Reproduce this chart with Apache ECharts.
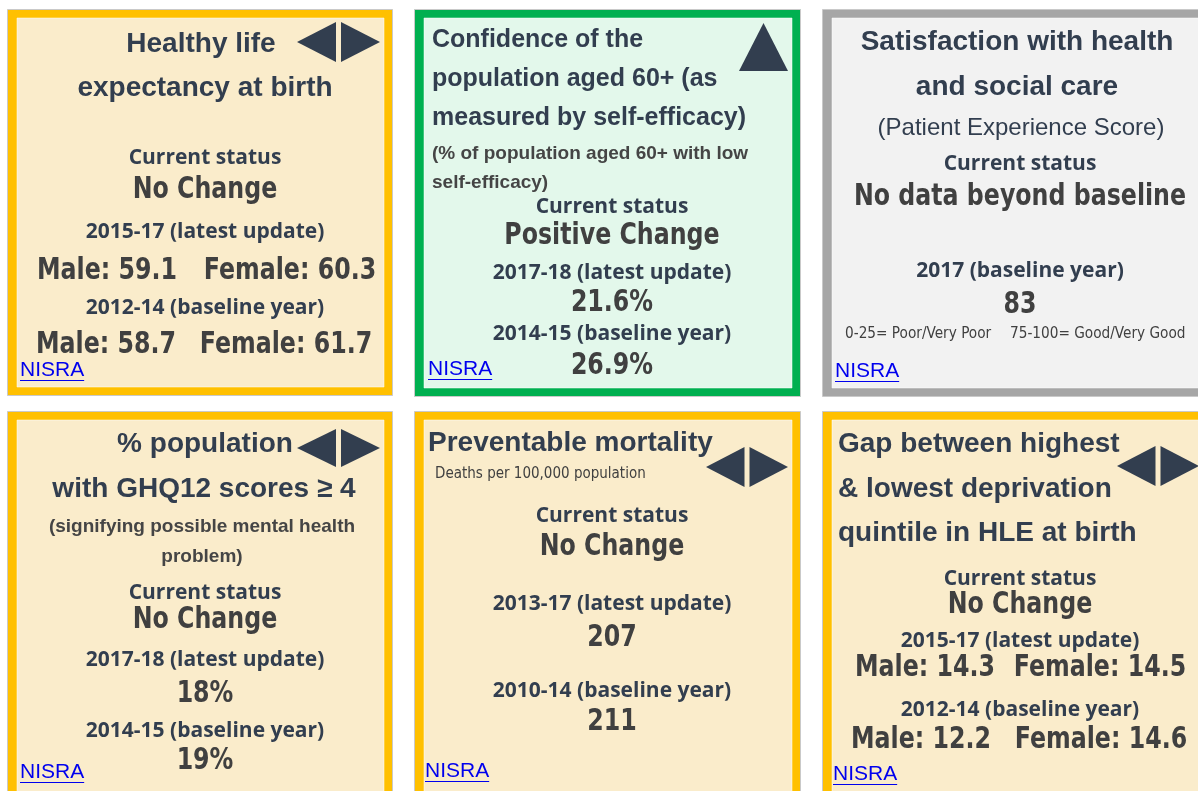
<!DOCTYPE html>
<html>
<head>
<meta charset="utf-8">
<script src="https://cdn.jsdelivr.net/npm/echarts@6/dist/echarts.min.js"></script>
<style>
  html, body { margin: 0; padding: 0; background: #fff; }
  #main { width: 1198px; height: 791px; }
</style>
</head>
<body>
<div id="main"></div>
<script>
// indicator data, one entry per card (reading order)
const titles = [
  ['Healthy life', 'expectancy at birth'],
  ['Confidence of the', 'population aged 60+ (as', 'measured by self-efficacy)'],
  ['Satisfaction with health', 'and social care'],
  ['% population', 'with GHQ12 scores \u2265 4'],
  ['Preventable mortality'],
  ['Gap between highest', '& lowest deprivation', 'quintile in HLE at birth']
];
const subtitles = [
  [],
  ['(% of population aged 60+ with low', 'self-efficacy)'],
  ['(Patient Experience Score)'],
  ['(signifying possible mental health', 'problem)'],
  ['Deaths per 100,000 population'],
  []
];
const statuses = ['No Change', 'Positive Change', 'No data beyond baseline', 'No Change', 'No Change', 'No Change'];
const trends = ['flat', 'up', 'none', 'flat', 'flat', 'flat'];
const latestPeriods = ['2015-17 (latest update)', '2017-18 (latest update)', null, '2017-18 (latest update)', '2013-17 (latest update)', '2015-17 (latest update)'];
const latestValues = [[59.1, 60.3], [21.6], [], [18], [207], [14.3, 14.5]];
const baselinePeriods = ['2012-14 (baseline year)', '2014-15 (baseline year)', '2017 (baseline year)', '2014-15 (baseline year)', '2010-14 (baseline year)', '2012-14 (baseline year)'];
const baselineValues = [[58.7, 61.7], [26.9], [83], [19], [211], [12.2, 14.6]];
const valueUnits = ['', '%', '', '%', '', ''];
const pairLabels = ['Male', 'Female'];
const scaleNotes = ['0-25= Poor/Very Poor', '75-100= Good/Very Good'];
const sourceName = 'NISRA';

// layout (pixels) kept apart from the data
const themes = {
  amber: { border: '#FFC000', fill: '#FAECCB' },
  green: { border: '#00B050', fill: '#E3F8EB' },
  grey:  { border: '#A6A6A6', fill: '#F2F2F2' }
};
const cardTheme = ['amber', 'green', 'grey', 'amber', 'amber', 'amber'];
const boxes = [
  [7, 9, 386, 387], [414, 9, 387, 388], [822, 9, 400, 388],
  [7, 411, 386, 400], [414, 411, 387, 400], [822, 411, 400, 400]
];
const layout = [
  { cx: 205, tAlign: 'center', tX: [201, 205], tY: [44, 88], tSize: 28,
    sY: [], st: 158, sv: 190, lp: 232, lv: 271, bp: 308, bv: 345, pairX: [[107, 290], [106, 286]],
    src: [20, 370], icon: [297, 22, 83, 40] },
  { cx: 612, tAlign: 'left', tX: [432, 432, 432], tY: [40, 79, 118], tSize: 25,
    sAlign: 'left', sX: [432, 432], sY: [154, 183], sFont: 'bold 19px "Liberation Sans", Arial, sans-serif', sColor: '#454545',
    st: 207, sv: 236, lp: 273, lv: 303, bp: 334, bv: 366,
    src: [428, 369], icon: [739, 23, 49, 48] },
  { cx: 1020, tAlign: 'center', tX: [1017, 1017], tY: [42, 87], tSize: 28,
    sAlign: 'center', sX: [1021], sY: [128], sFont: '24px "Liberation Sans", Arial, sans-serif', sColor: '#323E4F',
    st: 164, sv: 197, bp: 271, bv: 305, note: [845, 1010, 334],
    src: [835, 371] },
  { cx: 205, tAlign: 'center', tX: [205, 204], tY: [444, 489], tSize: 28,
    sAlign: 'center', sX: [202, 202], sY: [527, 557], sFont: 'bold 19px "Liberation Sans", Arial, sans-serif', sColor: '#454545',
    st: 593, sv: 620, lp: 660, lv: 694, bp: 731, bv: 761,
    src: [20, 772], icon: [297, 429, 83, 38] },
  { cx: 612, tAlign: 'left', tX: [428], tY: [443], tSize: 28,
    sAlign: 'left', sX: [435], sY: [474], sFont: '15px "DejaVu Sans Condensed", sans-serif', sColor: '#404040',
    st: 516, sv: 547, lp: 604, lv: 638, bp: 691, bv: 722,
    src: [425, 771], icon: [706, 447, 82, 40] },
  { cx: 1020, tAlign: 'left', tX: [838, 838, 838], tY: [444, 489, 533], tSize: 28,
    sY: [], st: 579, sv: 605, lp: 641, lv: 668, bp: 710, bv: 740, pairX: [[925, 1100], [921, 1101]],
    src: [833, 774], icon: [1117, 446, 82, 40] }
];

const INK = '#323E4F';
const VALUE_INK = '#404040';
const TITLE_FONT = '"Liberation Sans", Arial, sans-serif';
const LABEL_FONT = 'bold 21px "Open Sans", "Noto Sans", sans-serif';
const LABEL_SCALE = 1.0;
const BIG_FONT = 'bold 31px "DejaVu Sans Condensed", sans-serif';
const BIG_SCALE = 0.85;
const NOTE_FONT = '16px "DejaVu Sans Condensed", sans-serif';
const SRC_FONT = '21px "Liberation Sans", Arial, sans-serif';

const measureCtx = document.createElement('canvas').getContext('2d');
function textWidth(str, font) {
  measureCtx.font = font;
  return measureCtx.measureText(str).width;
}

function txt(x, y, text, font, fill, align, sx) {
  return {
    type: 'text', silent: true, x: x, y: y, scaleX: sx || 1,
    style: { x: 0, y: 0, text: text, font: font, fill: fill, align: align || 'center', verticalAlign: 'middle' }
  };
}

function fmt(v, unit) {
  return String(v) + unit;
}

const elements = [];

boxes.forEach(function (b, i) {
  const th = themes[cardTheme[i]];
  elements.push({ type: 'rect', shape: { x: b[0] + 0.5, y: b[1] + 0.5, width: b[2] - 1, height: b[3] - 1 },
    style: { fill: th.border, stroke: '#C9C9C9', lineWidth: 1 } });
  elements.push({ type: 'rect', shape: { x: b[0] + 10, y: b[1] + 9, width: b[2] - 19, height: b[3] - 18 },
    style: { fill: th.fill, stroke: 'rgba(255,255,255,0.5)', lineWidth: 1 } });
});

titles.forEach(function (lines, i) {
  const L = layout[i];
  lines.forEach(function (line, j) {
    elements.push(txt(L.tX[j], L.tY[j], line, 'bold ' + L.tSize + 'px ' + TITLE_FONT, INK, L.tAlign));
  });
  subtitles[i].forEach(function (line, j) {
    elements.push(txt(L.sX[j], L.sY[j], line, L.sFont, L.sColor, L.sAlign));
  });

  // trend icon
  if (trends[i] === 'flat') {
    const [x, y, w, h] = L.icon;
    const half = (w - 5) / 2;
    elements.push({ type: 'polygon', silent: true,
      shape: { points: [[x, y + h / 2], [x + half, y], [x + half, y + h]] }, style: { fill: INK } });
    elements.push({ type: 'polygon', silent: true,
      shape: { points: [[x + half + 5, y], [x + w, y + h / 2], [x + half + 5, y + h]] }, style: { fill: INK } });
  } else if (trends[i] === 'up') {
    const [x, y, w, h] = L.icon;
    elements.push({ type: 'polygon', silent: true,
      shape: { points: [[x + w / 2, y], [x + w, y + h], [x, y + h]] }, style: { fill: INK } });
  }

  elements.push(txt(L.cx, L.st, 'Current status', LABEL_FONT, INK, 'center', LABEL_SCALE));
  elements.push(txt(L.cx, L.sv, statuses[i], BIG_FONT, VALUE_INK, 'center', BIG_SCALE));

  if (latestPeriods[i]) {
    elements.push(txt(L.cx, L.lp, latestPeriods[i], LABEL_FONT, INK, 'center', LABEL_SCALE));
    const vals = latestValues[i];
    if (vals.length === 2) {
      vals.forEach(function (v, k) {
        elements.push(txt(L.pairX[0][k], L.lv, pairLabels[k] + ': ' + fmt(v, valueUnits[i]), BIG_FONT, VALUE_INK, 'center', BIG_SCALE));
      });
    } else {
      elements.push(txt(L.cx, L.lv, fmt(vals[0], valueUnits[i]), BIG_FONT, VALUE_INK, 'center', BIG_SCALE));
    }
  }

  elements.push(txt(L.cx, L.bp, baselinePeriods[i], LABEL_FONT, INK, 'center', LABEL_SCALE));
  const bvals = baselineValues[i];
  if (bvals.length === 2) {
    bvals.forEach(function (v, k) {
      elements.push(txt(L.pairX[1][k], L.bv, pairLabels[k] + ': ' + fmt(v, valueUnits[i]), BIG_FONT, VALUE_INK, 'center', BIG_SCALE));
    });
  } else {
    elements.push(txt(L.cx, L.bv, fmt(bvals[0], valueUnits[i]), BIG_FONT, VALUE_INK, 'center', BIG_SCALE));
  }

  if (L.note) {
    elements.push(txt(L.note[0], L.note[2], scaleNotes[0], NOTE_FONT, VALUE_INK, 'left', 0.95));
    elements.push(txt(L.note[1], L.note[2], scaleNotes[1], NOTE_FONT, VALUE_INK, 'left', 0.95));
  }

  // source link
  const [sx, sy] = L.src;
  elements.push(txt(sx, sy, sourceName, SRC_FONT, '#0000EE', 'left'));
  const w = textWidth(sourceName, SRC_FONT);
  elements.push({ type: 'line', silent: true,
    shape: { x1: sx, y1: sy + 10.5, x2: sx + w, y2: sy + 10.5 }, style: { stroke: '#0000EE', lineWidth: 1 } });
});

const chart = echarts.init(document.getElementById('main'), null, { renderer: 'canvas' });
chart.setOption({
  backgroundColor: '#ffffff',
  animation: false,
  graphic: { elements: elements }
});
</script>
</body>
</html>
